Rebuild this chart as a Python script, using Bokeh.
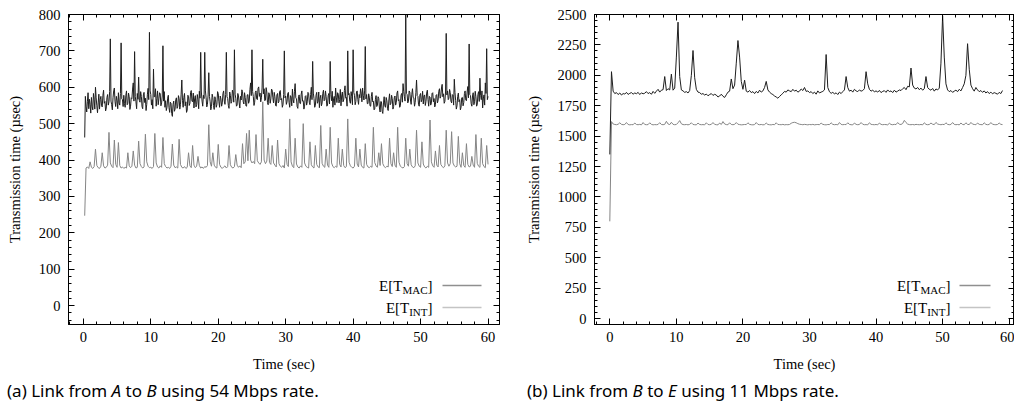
import numpy as np
from bokeh.plotting import figure
from bokeh.models import (LinearAxis, SingleIntervalTicker, Range1d, Label, Arrow,
                          Div, ColumnDataSource)
from bokeh.layouts import row, column
from bokeh.embed import file_html
from bokeh.resources import INLINE

# ---------------- data ----------------
# Panel (a): link A -> B at 54 Mbps
A_MAC_STEP = 0.1      # MAC samples every 0.1 s starting at 0.2 s
a_mac = [
    462, 575, 548, 532, 560, 585, 541, 567, 553, 529, 572, 548, 538, 583, 566, 540, 600, 571, 549, 530,
    557, 581, 540, 566, 575, 549, 546, 578, 592, 556, 561, 535, 543, 572, 580, 551, 560, 588, 733, 562,
    552, 538, 571, 590, 598, 560, 547, 575, 563, 541, 585, 557, 551, 583, 722, 568, 566, 547, 578, 555,
    545, 578, 590, 552, 556, 584, 574, 539, 548, 571, 569, 595, 612, 562, 698, 574, 560, 541, 583, 567,
    628, 564, 559, 588, 575, 547, 541, 579, 586, 558, 570, 536, 553, 581, 597, 566, 751, 590, 580, 551,
    566, 541, 650, 573, 575, 596, 548, 569, 590, 552, 568, 585, 582, 549, 557, 576, 714, 562, 588, 545,
    563, 536, 545, 570, 578, 544, 531, 559, 556, 528, 520, 553, 562, 534, 540, 566, 571, 542, 548, 577,
    569, 540, 552, 581, 620, 563, 545, 572, 583, 549, 560, 531, 537, 578, 574, 550, 556, 586, 591, 562,
    560, 584, 543, 568, 577, 546, 552, 580, 566, 541, 589, 570, 696, 587, 562, 548, 578, 569, 696, 590,
    571, 546, 553, 579, 640, 575, 560, 538, 547, 581, 572, 550, 539, 574, 566, 545, 552, 588, 583, 560,
    545, 576, 568, 548, 557, 583, 590, 562, 553, 580, 696, 574, 569, 550, 542, 587, 578, 556, 561, 592,
    584, 559, 703, 581, 570, 548, 551, 583, 576, 557, 543, 575, 565, 593, 588, 560, 554, 585, 572, 549,
    548, 579, 580, 556, 562, 594, 612, 577, 703, 588, 575, 550, 559, 586, 590, 568, 566, 597, 601, 575,
    584, 560, 571, 598, 677, 582, 596, 563, 565, 599, 587, 558, 552, 585, 579, 556, 568, 595, 592, 571,
    557, 586, 574, 550, 548, 579, 583, 557, 561, 588, 591, 565, 569, 545, 552, 580, 700, 571, 576, 553,
    560, 583, 586, 558, 545, 577, 573, 549, 595, 566, 557, 589, 610, 571, 568, 547, 542, 575, 579, 556,
    555, 581, 590, 562, 563, 540, 548, 575, 577, 551, 560, 586, 583, 559, 552, 580, 600, 566, 671, 584,
    569, 545, 550, 578, 586, 556, 561, 587, 544, 570, 578, 549, 557, 583, 592, 563, 566, 590, 574, 548,
    551, 577, 583, 554, 671, 580, 563, 589, 545, 568, 575, 551, 598, 573, 558, 585, 581, 557, 566, 594,
    549, 576, 587, 560, 565, 591, 604, 570, 572, 548, 700, 579, 583, 561, 556, 588, 574, 552, 703, 586,
    578, 552, 561, 587, 590, 566, 553, 580, 571, 596, 584, 560, 598, 578, 565, 590, 712, 568, 580, 555,
    555, 582, 573, 549, 548, 575, 586, 560, 562, 538, 540, 566, 577, 547, 551, 574, 569, 543, 532, 561,
    560, 534, 528, 557, 574, 549, 545, 572, 563, 541, 536, 565, 582, 552, 556, 578, 569, 540, 547, 571,
    576, 551, 558, 584, 590, 563, 566, 545, 549, 578, 583, 559, 610, 588, 574, 562, 800, 583, 580, 557,
    562, 590, 587, 565, 553, 581, 596, 572, 571, 548, 558, 585, 620, 577, 575, 552, 548, 579, 583, 560,
    566, 589, 554, 576, 579, 550, 561, 584, 592, 566, 548, 575, 573, 551, 557, 583, 585, 560, 569, 546,
    552, 578, 580, 557, 564, 589, 596, 570, 575, 598, 608, 574, 582, 556, 561, 587, 748, 579, 590, 566,
    570, 594, 585, 562, 557, 580, 578, 551, 622, 586, 563, 540, 549, 575, 584, 560, 566, 538, 545, 571,
    572, 549, 558, 583, 590, 565, 563, 587, 602, 571, 719, 580, 577, 555, 548, 576, 585, 552, 560, 589,
    574, 548, 552, 580, 588, 561, 625, 578, 566, 590, 543, 568, 579, 551, 612, 583, 706, 566, 575,
]
A_INT_STEP = 0.2      # INT samples every 0.2 s starting at 0.2 s
a_int = [
    247, 378, 381, 377, 395, 380, 377, 382, 430, 385,
    379, 377, 383, 420, 384, 378, 380, 386, 476, 392,
    383, 379, 455, 388, 380, 448, 385, 378, 381, 377,
    380, 378, 420, 384, 379, 383, 425, 386, 378, 380,
    452, 390, 382, 378, 381, 471, 395, 383, 379, 380,
    377, 382, 473, 392, 381, 378, 384, 380, 462, 390,
    382, 378, 380, 377, 383, 444, 386, 379, 381, 378,
    457, 388, 380, 378, 382, 377, 380, 420, 384, 379,
    440, 386, 379, 383, 410, 385, 378, 381, 377, 382,
    380, 385, 497, 395, 383, 420, 386, 380, 378, 443,
    388, 380, 377, 381, 384, 378, 382, 440, 387, 380,
    378, 382, 415, 386, 380, 384, 379, 445, 390, 395,
    473, 398, 482, 400, 392, 396, 390, 470, 398, 392,
    388, 395, 560, 400, 390, 397, 460, 393, 388, 440,
    392, 386, 381, 455, 390, 383, 380, 385, 378, 430,
    388, 382, 513, 395, 383, 379, 460, 389, 381, 378,
    384, 380, 500, 392, 383, 380, 378, 450, 387, 381,
    378, 440, 388, 381, 379, 495, 391, 383, 380, 430,
    386, 380, 490, 392, 382, 379, 383, 380, 460, 388,
    381, 430, 385, 379, 382, 513, 394, 384, 380, 378,
    383, 460, 389, 381, 430, 386, 380, 378, 445, 388,
    381, 379, 383, 380, 490, 393, 384, 380, 420, 385,
    445, 390, 382, 379, 383, 381, 460, 390, 382, 420,
    386, 380, 490, 394, 383, 380, 378, 382, 460, 390,
    383, 430, 387, 381, 379, 384, 482, 392, 383, 380,
    450, 389, 381, 378, 383, 380, 510, 395, 384, 380,
    425, 386, 381, 440, 388, 382, 379, 384, 482, 392,
    383, 390, 478, 392, 384, 381, 383, 465, 390, 380,
    420, 385, 380, 445, 388, 381, 383, 410, 386, 380,
    470, 391, 383, 380, 460, 390, 382, 379, 440, 388,
]

# Panel (b): link B -> E at 11 Mbps, samples every 0.25 s starting at 0 s
B_STEP = 0.25
b_mac = [
    1350, 2030, 1870, 1850, 1858, 1842, 1855, 1838,
    1850, 1846, 1860, 1843, 1852, 1858, 1845, 1855,
    1849, 1860, 1842, 1856, 1848, 1853, 1866, 1850,
    1858, 1844, 1868, 1852, 1870, 1885, 1862, 1878,
    1882, 1990, 1875, 1890, 1880, 2010, 1878, 1895,
    2150, 2437, 1990, 1880, 1872, 1860, 1866, 1855,
    1875, 2000, 2204, 1980, 1885, 1862, 1858, 1845,
    1850, 1838, 1846, 1832, 1842, 1850, 1835, 1844,
    1838, 1822, 1830, 1845, 1828, 1818, 1840, 1862,
    1870, 1970, 1890, 1920, 2100, 2286, 2150, 1950,
    1885, 1960, 1870, 1862, 1875, 1858, 1866, 1850,
    1868, 1855, 1878, 1862, 1872, 1900, 1950, 1880,
    1862, 1850, 1842, 1830, 1822, 1812, 1826, 1840,
    1852, 1868, 1862, 1880, 1872, 1866, 1885, 1870,
    1878, 1862, 1870, 1888, 1875, 1900, 1868, 1872,
    1858, 1866, 1850, 1862, 1845, 1872, 1855, 1862,
    1868, 1880, 2171, 1900, 1865, 1852, 1860, 1848,
    1856, 1842, 1862, 1850, 1866, 1880, 1990, 1900,
    1870, 1878, 1862, 1885, 1872, 1866, 1880, 1870,
    1875, 1890, 2030, 1930, 1885, 1870, 1878, 1865,
    1872, 1862, 1876, 1858, 1868, 1874, 1860, 1880,
    1866, 1872, 1858, 1878, 1862, 1870, 1880, 1875,
    1890, 1900, 1882, 1910, 1905, 2060, 1920, 1895,
    1888, 1900, 1882, 1895, 1878, 1890, 1990, 1900,
    1885, 1878, 1892, 1870, 1888, 1880, 1895, 2100,
    2490, 2150, 1930, 1880, 1866, 1875, 1860, 1870,
    1878, 1866, 1885, 1872, 1900, 1930, 2000, 2260,
    2050, 1920, 1890, 1870, 1900, 1880, 1866, 1875,
    1860, 1872, 1855, 1866, 1850, 1862, 1848, 1858,
    1852, 1845, 1860, 1850, 1875,
]
b_int = [
    800, 1620, 1600, 1596, 1594, 1598, 1610, 1597,
    1594, 1596, 1612, 1596, 1593, 1595, 1594, 1608,
    1596, 1594, 1597, 1593, 1612, 1596, 1594, 1595,
    1610, 1597, 1593, 1595, 1594, 1596, 1611, 1596,
    1594, 1597, 1622, 1600, 1595, 1614, 1597, 1594,
    1596, 1610, 1628, 1602, 1595, 1594, 1596, 1593,
    1597, 1610, 1596, 1594, 1593, 1608, 1596, 1594,
    1595, 1593, 1610, 1596, 1594, 1597, 1612, 1597,
    1594, 1593, 1608, 1596, 1620, 1600, 1595, 1594,
    1610, 1596, 1594, 1597, 1612, 1598, 1595, 1593,
    1594, 1596, 1595, 1610, 1597, 1594, 1593, 1595,
    1612, 1597, 1594, 1596, 1593, 1595, 1608, 1596,
    1594, 1593, 1596, 1594, 1610, 1596, 1595, 1594,
    1597, 1593, 1595, 1594, 1596, 1606, 1612, 1614,
    1610, 1603, 1598, 1596, 1594, 1597, 1595, 1593,
    1596, 1594, 1597, 1593, 1595, 1596, 1594, 1608,
    1597, 1594, 1593, 1596, 1595, 1610, 1597, 1594,
    1596, 1593, 1612, 1597, 1594, 1596, 1595, 1610,
    1597, 1594, 1593, 1608, 1597, 1594, 1596, 1612,
    1598, 1594, 1595, 1593, 1610, 1597, 1595, 1594,
    1596, 1593, 1608, 1597, 1594, 1596, 1595, 1593,
    1606, 1596, 1594, 1597, 1595, 1612, 1598, 1596,
    1604, 1630, 1612, 1599, 1595, 1594, 1596, 1593,
    1597, 1595, 1594, 1596, 1593, 1610, 1597, 1594,
    1596, 1608, 1598, 1595, 1613, 1600, 1596, 1594,
    1597, 1595, 1610, 1597, 1594, 1596, 1612, 1597,
    1594, 1596, 1593, 1608, 1596, 1594, 1610, 1597,
    1595, 1613, 1599, 1596, 1594, 1608, 1597, 1595,
    1594, 1610, 1597, 1594, 1596, 1612, 1598, 1595,
    1594, 1596, 1608, 1597, 1595,
]

x_label = "Time (sec)"
y_label = "Transmission time (\u00b5sec)"
captions = ['(a) Link from <i>A</i> to <i>B</i> using 54 Mbps rate.',
            '(b) Link from <i>B</i> to <i>E</i> using 11 Mbps rate.']

# ---------------- styling ----------------
SERIF = "Liberation Serif"
MAC_COLOR = "#1e1e1e"
INT_COLOR = "#858585"
MAC_LEG = "#8f8f8f"
INT_LEG = "#c4c4c4"


def style_axis(ax, labels=True, title=None):
    ax.major_tick_in = 6
    ax.major_tick_out = 0
    ax.minor_tick_in = 3
    ax.minor_tick_out = 0
    ax.axis_line_color = "black"
    ax.major_tick_line_color = "black"
    ax.minor_tick_line_color = "black"
    ax.major_label_text_font = SERIF
    ax.major_label_text_font_size = "14.5px"
    if labels:
        ax.major_label_text_color = "black"
    else:
        ax.major_label_text_color = None
        ax.major_label_standoff = 0
    if title:
        ax.axis_label = title
        ax.axis_label_text_font = SERIF
        ax.axis_label_text_font_size = "14.5px"
        ax.axis_label_text_font_style = "normal"
        ax.axis_label_text_color = "black"


def make_panel(t_mac, mac, t_int, intv, xr, yr, ystep, left_border, right_border,
               leg_right, leg_x0, leg_x1):
    p = figure(width=507, height=378, x_range=Range1d(*xr), y_range=Range1d(*yr),
               min_border_left=left_border, min_border_right=right_border,
               min_border_top=14, min_border_bottom=54,
               x_axis_type=None, y_axis_type=None,
               output_backend="svg", toolbar_location=None)
    p.outline_line_color = "black"
    p.background_fill_color = "white"
    p.border_fill_color = "white"

    xt = SingleIntervalTicker(interval=10, num_minor_ticks=5)
    yt = SingleIntervalTicker(interval=ystep, num_minor_ticks=5)

    bx = LinearAxis(ticker=xt)
    style_axis(bx, True, x_label)
    bx.major_label_standoff = 7
    bx.axis_label_standoff = 11
    p.add_layout(bx, "below")

    ly = LinearAxis(ticker=yt)
    style_axis(ly, True, y_label)
    ly.major_label_standoff = 8
    ly.axis_label_standoff = 13
    p.add_layout(ly, "left")

    tx = LinearAxis(ticker=xt)
    style_axis(tx, False)
    p.add_layout(tx, "above")
    ry = LinearAxis(ticker=yt)
    style_axis(ry, False)
    p.add_layout(ry, "right")

    src_int = ColumnDataSource(dict(t=t_int, v=intv))
    src_mac = ColumnDataSource(dict(t=t_mac, v=mac))
    p.line("t", "v", source=src_int, line_color=INT_COLOR, line_width=1)
    p.line("t", "v", source=src_mac, line_color=MAC_COLOR, line_width=1)

    # legend (drawn by hand for subscripts)
    for row_y, sub, col in ((39, "MAC", MAC_LEG), (17, "INT", INT_LEG)):
        sub_w = 25.1 if sub == "MAC" else 18.3
        close_w = 5.0
        p.add_layout(Label(x=leg_right, y=row_y, x_units="screen", y_units="screen",
                           text="]", text_font=SERIF, text_font_size="15px",
                           text_align="right", text_baseline="middle", text_color="black"))
        p.add_layout(Label(x=leg_right - close_w, y=row_y - 4, x_units="screen", y_units="screen",
                           text=sub, text_font=SERIF, text_font_size="11px",
                           text_align="right", text_baseline="middle", text_color="black"))
        p.add_layout(Label(x=leg_right - close_w - sub_w, y=row_y, x_units="screen",
                           y_units="screen", text="E[T", text_font=SERIF,
                           text_font_size="15px", text_align="right",
                           text_baseline="middle", text_color="black"))
        p.add_layout(Arrow(x_start=leg_x0, y_start=row_y, x_end=leg_x1, y_end=row_y,
                           start_units="screen", end_units="screen", end=None, start=None,
                           line_color=col, line_width=1.5))
    return p


t_a_mac = np.round(0.2 + A_MAC_STEP * np.arange(len(a_mac)), 3)
t_a_int = np.round(A_INT_STEP * np.arange(1, len(a_int) + 1), 3)
t_b = np.round(B_STEP * np.arange(len(b_mac)), 3)

p1 = make_panel(t_a_mac, a_mac, t_a_int, a_int, (-2.2, 61.7), (-52, 800), 100, 68, 8,
                364, 374, 413)
p2 = make_panel(t_b, b_mac, t_b, b_int, (-2.3, 60.8), (-48, 2500), 250, 87, 0,
                356, 365, 396)


def caption(html, pad):
    return Div(text=html, width=507, height=27, margin=(0, 0, 0, 0),
               styles={"font-family": "'Noto Sans'", "font-size": "17px",
                       "line-height": "25px", "padding-left": f"{pad}px",
                       "padding-top": "0px", "color": "black"})


layout = row(column(p1, caption(captions[0], 7)), column(p2, caption(captions[1], 20)))
open("out.html", "w").write(file_html(layout, INLINE))
